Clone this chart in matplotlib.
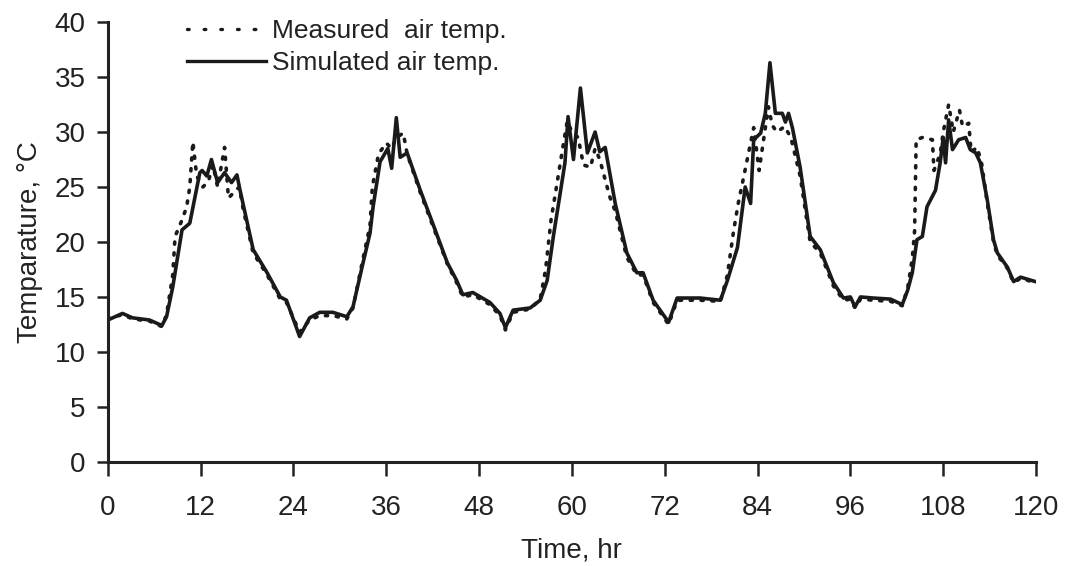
#%%
import numpy as np
import matplotlib.pyplot as plt

plt.rcParams['font.family'] = ['Liberation Sans', 'DejaVu Sans']

#%% data (time in hr, temperature in degC)
sim_t = [0, 1.9, 3.2, 5.4, 7.0, 7.6, 8.4, 9.6, 10.6, 11.9, 12.2, 12.8, 13.4, 14.2, 15.1,
         16.0, 16.7, 17.1, 18.8, 20.6, 22.3, 23.1, 24.8, 26.1, 27.4, 29.1, 30.9, 31.7,
         33.0, 33.9, 34.3, 35.2, 36.2, 36.7, 37.3, 37.8, 38.7, 40.4, 42.0, 43.9, 45.1,
         45.9, 47.2, 49.4, 50.7, 51.4, 52.4, 54.6, 55.9, 56.8, 57.6, 58.5, 59.1, 59.5,
         60.2, 61.1, 62.0, 63.0, 63.6, 64.3, 65.6, 67.1, 68.4, 69.2, 70.5, 72.5, 73.6,
         76.6, 79.2, 80.1, 81.4, 82.4, 83.1, 83.5, 84.4, 85.0, 85.6, 86.3, 87.2, 87.6,
         88.0, 88.5, 89.5, 90.8, 92.1, 93.8, 95.1, 96.0, 96.6, 97.3, 99.0, 101.2, 102.7,
         103.4, 104.0, 104.6, 105.3, 105.9, 107.0, 107.6, 108.0, 108.3, 108.7, 109.2,
         110.0, 110.9, 111.5, 112.2, 112.8, 113.7, 114.5, 115.0, 116.3, 117.1, 118.0, 119.9]
sim_T = [12.9, 13.5, 13.1, 12.9, 12.4, 13.2, 15.9, 21.1, 21.7, 26.3, 26.5, 26.0, 27.5, 25.4, 26.3,
         25.4, 26.1, 24.7, 19.3, 17.2, 15.0, 14.7, 11.4, 13.1, 13.6, 13.6, 13.2, 14.1,
         18.1, 20.8, 23.2, 27.3, 28.5, 26.7, 31.3, 27.7, 28.1, 24.7, 21.7, 18.1, 16.5,
         15.2, 15.4, 14.5, 13.5, 12.2, 13.8, 14.0, 14.7, 16.5, 20.5, 24.5, 27.2, 31.4,
         27.5, 34.0, 28.1, 30.0, 28.2, 28.6, 23.5, 19.0, 17.2, 17.2, 14.7, 12.7, 14.9,
         14.9, 14.7, 16.5, 19.5, 25.0, 23.5, 29.3, 29.9, 31.7, 36.3, 31.7, 31.7, 30.9,
         31.7, 30.4, 26.8, 20.5, 19.3, 16.3, 14.9, 15.0, 14.1, 15.0, 14.9, 14.8, 14.3,
         15.6, 17.2, 20.2, 20.5, 23.2, 24.7, 27.2, 29.5, 27.2, 31.1, 28.4,
         29.3, 29.5, 28.4, 28.1, 27.2, 23.8, 20.2, 19.0, 17.7, 16.4, 16.8, 16.4]

meas_t = [0, 1.9, 3.2, 5.4, 7.0, 7.6, 8.4, 8.7, 9.6, 10.2, 10.6, 11.0, 11.5, 12.3, 13.0,
          13.6, 14.2, 15.1, 15.6, 16.3, 17.0, 17.5, 18.8, 20.6, 22.3, 23.1, 24.8, 26.1,
          27.4, 29.1, 30.9, 31.7, 33.0, 33.9, 34.2, 35.0, 36.0, 36.7, 37.3, 38.2, 38.7,
          40.4, 42.0, 43.9, 45.1, 45.9, 47.2, 49.4, 50.7, 51.4, 52.4, 54.6, 55.9, 56.6,
          57.3, 58.0, 58.8, 59.4, 60.0, 60.8, 61.5, 62.4, 63.0, 63.6, 64.9, 65.6, 67.1,
          68.4, 69.2, 70.5, 72.5, 73.6, 76.6, 79.2, 80.1, 80.9, 81.5, 82.2, 83.5, 84.2,
          85.4, 85.9, 86.5, 87.5, 88.3, 89.5, 90.8, 92.1, 93.8, 95.1, 96.0, 96.6, 97.3,
          99.0, 101.2, 102.7, 103.4, 104.0, 104.3, 104.5, 105.3, 106.6, 106.8, 107.6,
          108.0, 108.7, 109.3, 110.1, 110.5, 111.3, 111.6, 112.4, 113.0, 113.7, 114.5,
          115.0, 116.3, 117.1, 118.0, 119.9]
meas_T = [13.0, 13.4, 13.0, 12.8, 12.3, 13.4, 17.0, 20.5, 22.0, 23.2, 25.0, 29.1, 26.0, 25.0, 25.5,
          27.0, 25.0, 28.6, 24.0, 24.5, 25.0, 23.0, 19.0, 17.0, 14.8, 14.5, 11.8, 12.9,
          13.3, 13.3, 13.0, 14.0, 18.5, 21.5, 25.0, 28.0, 29.0, 28.5, 29.5, 29.9, 28.0,
          24.5, 21.5, 18.0, 16.3, 15.0, 15.2, 14.3, 13.3, 12.0, 13.6, 13.9, 14.8, 17.5,
          22.0, 25.0, 28.5, 31.0, 30.0, 29.5, 27.0, 26.8, 28.5, 27.5, 24.1, 22.8, 18.6,
          17.0, 17.0, 14.5, 12.5, 14.7, 14.7, 14.6, 17.0, 21.0, 23.5, 25.9, 30.4, 26.5,
          32.3, 30.6, 30.0, 30.5, 29.5, 26.0, 20.0, 19.0, 16.0, 14.7, 14.8, 14.0, 14.8,
          14.7, 14.6, 14.2, 15.8, 18.5, 21.0, 29.3, 29.5, 29.3, 26.5, 28.0,
          30.0, 32.5, 30.0, 32.0, 30.5, 30.8, 28.2, 28.6, 27.0, 23.5, 20.0,
          18.8, 17.6, 16.3, 16.7, 16.3]

xticks = np.arange(0, 121, 12)
yticks = np.arange(0, 41, 5)

#%% plot
fig = plt.figure(figsize=(10.67, 5.66), dpi=100)
ax = fig.add_axes([0.101, 0.184, 0.870, 0.777])

ink = '#1a1a1a'
txt = '#222222'
ax.plot(meas_t, meas_T, color=ink, lw=2.6, linestyle=(0, (0.6, 2.4)),
        dash_capstyle='round', label='Measured  air temp.')
ax.plot(sim_t, sim_T, color=ink, lw=2.6, label='Simulated air temp.')

ax.set_xlim(0, 120)
ax.set_ylim(0, 40)
ax.set_xticks(xticks)
ax.set_yticks(yticks)
ax.tick_params(axis='both', labelsize=20, width=1.8, color=txt, labelcolor=txt)
ax.tick_params(axis='x', length=10, pad=14)
ax.tick_params(axis='y', length=8, pad=8)
for s in ['top', 'right']:
    ax.spines[s].set_visible(False)
for s in ['left', 'bottom']:
    ax.spines[s].set_linewidth(2.2)
    ax.spines[s].set_color(txt)

ax.set_xlabel('Time, hr', fontsize=20, color=txt, labelpad=12)
ax.set_ylabel('Temparature, \u00b0C', fontsize=20, color=txt, labelpad=8)

leg = ax.legend(loc='upper left', bbox_to_anchor=(0.06, 1.06), frameon=False, fontsize=19,
                handlelength=3.0, handletextpad=0.2, labelspacing=0.3,
                labelcolor=txt)
leg.get_lines()[0].set_linestyle((0, (0.5, 4.5)))
for h in leg.get_lines():
    h.set_linewidth(2.4)

fig.savefig('out.png', dpi=100)
